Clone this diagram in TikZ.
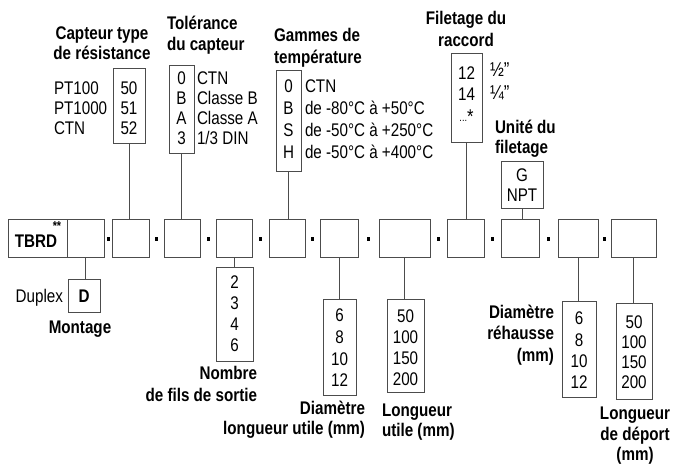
\documentclass[tikz,border=0pt]{standalone}
\usepackage{fontspec}
\setmainfont{Liberation Sans}[FakeStretch=0.83]
\newcommand\fs{\fontsize{18.3pt}{21pt}\selectfont}
\newcommand\B[5]{\node[bx, minimum width={(#4-#2)*1pt}, minimum height={(#5-#3)*1pt}] (#1) at ({(#2+#4)/2},{(#3+#5)/2}) {};}
\newcommand\T[5][tx]{\node[#1] (#2) at (#3,{#4+6.3}) {#5};}
\begin{document}
\begin{tikzpicture}[x=1pt,y=-1pt,
  lc/.style={draw=black!70, line width=0.9pt},
  bx/.style={lc, rectangle, inner sep=0pt, outer sep=0pt},
  tx/.style={inner sep=0pt, outer sep=0pt, font=\fs, anchor=base},
  tl/.style={tx, anchor=base west},
  tr/.style={tx, anchor=base east},
  bt/.style={font=\fs\bfseries},
  sepdot/.style={fill=black, inner sep=0pt, outer sep=0pt, minimum width=3pt, minimum height=4pt}]
\useasboundingbox (0,0) rectangle (674,463);
% main row
\B{m0a}{8}{219}{67}{257}
\B{m0b}{67}{219}{104}{257}
\B{m1}{112}{219}{149}{257}
\B{m2}{164}{219}{200}{257}
\B{m3}{216}{219}{252}{257}
\B{m4}{269}{219}{305}{257}
\B{m5}{320}{219}{358}{257}
\B{m6}{379}{219}{430}{257}
\B{m7}{447}{219}{484}{257}
\B{m8}{501}{219}{539}{257}
\B{m9}{558}{219}{598}{257}
\B{m10}{611}{219}{656}{257}
\T[tx,bt]{tbrd}{36}{241}{TBRD}
\node[tx, font=\fontsize{13pt}{13pt}\selectfont\bfseries] (ast) at (57,230.5) {**};
\foreach \x [count=\i] in {108,156.5,208,260.5,312.5,368.5,438.5,492.5,548.5,604.5}
  \node[sepdot] (d\i) at (\x,239) {};
% Capteur type
\B{t1}{113}{68}{145}{143}
\T{v11}{129}{88}{50}
\T{v12}{129}{108}{51}
\T{v13}{129}{128}{52}
\T[tl]{l11}{54}{88}{PT100}
\T[tl]{l12}{54}{108}{PT1000}
\T[tl]{l13}{54}{128}{CTN}
\T[tx,bt]{h11}{102}{33}{Capteur type}
\T[tx,bt]{h12}{102}{53}{de résistance}
% Tolerance
\B{t2}{169}{65}{194}{153}
\T{v21}{181.5}{78}{0}
\T{v22}{181.5}{98}{B}
\T{v23}{181.5}{118}{A}
\T{v24}{181.5}{138}{3}
\T[tl]{l21}{197}{78}{CTN}
\T[tl]{l22}{197}{98}{Classe B}
\T[tl]{l23}{197}{118}{Classe A}
\T[tl]{l24}{197}{138}{1/3 DIN}
\T[tl,bt]{h21}{167}{23}{Tolérance}
\T[tl,bt]{h22}{167}{44}{du capteur}
% Gammes
\B{t3}{276}{70}{301}{171}
\T{v31}{288.5}{86}{0}
\T{v32}{288.5}{108}{B}
\T{v33}{288.5}{130}{S}
\T{v34}{288.5}{152}{H}
\T[tl]{l31}{305}{86}{CTN}
\T[tl]{l32}{305}{108}{de -80°C à +50°C}
\T[tl]{l33}{305}{130}{de -50°C à +250°C}
\T[tl]{l34}{305}{152}{de -50°C à +400°C}
\T[tl,bt]{h31}{274}{35}{Gammes de}
\T[tl,bt]{h32}{274}{57}{température}
% Filetage
\B{t4}{451}{53}{482}{142}
\T{v41}{466.5}{73}{12}
\T{v42}{466.5}{94}{14}
\node[tx] (v43) at (466.5,121) {{\fontsize{11pt}{11pt}\selectfont ...}{\fontsize{20pt}{20pt}\selectfont\raisebox{-2pt}{*}}};
\node[tl, font=\fontsize{20pt}{20pt}\selectfont] (f41) at (490,76) {½"};
\node[tl, font=\fontsize{20pt}{20pt}\selectfont] (f42) at (490,99) {¼"};
\T[tx,bt]{h41}{466}{18}{Filetage du}
\T[tx,bt]{h42}{466}{40}{raccord}
% Unite
\T[tl,bt]{h51}{495}{127}{Unité du}
\T[tl,bt]{h52}{495}{147}{filetage}
\B{t5}{501}{161}{543}{208}
\T{v51}{522}{175}{G}
\T{v52}{522}{195}{NPT}
% Montage
\B{b0}{68}{279}{100}{312}
\T[tx,bt]{vb0}{84}{296}{D}
\T[tr]{lb0}{63}{296}{Duplex}
\T[tx,bt]{hb0}{80}{327}{Montage}
% Nombre
\B{b3}{216}{267}{253}{361}
\T{vb31}{234.5}{282}{2}
\T{vb32}{234.5}{303}{3}
\T{vb33}{234.5}{324}{4}
\T{vb34}{234.5}{345}{6}
\T[tr,bt]{hb31}{257}{373}{Nombre}
\T[tr,bt]{hb32}{257}{395}{de fils de sortie}
% Diametre longueur utile
\B{b5}{323}{299}{356}{395}
\T{vb51}{339.5}{315}{6}
\T{vb52}{339.5}{337}{8}
\T{vb53}{339.5}{359}{10}
\T{vb54}{339.5}{380}{12}
\T[tr,bt]{hb51}{365}{408}{Diamètre}
\T[tr,bt]{hb52}{365}{428}{longueur utile (mm)}
% Longueur utile
\B{b6}{387}{299}{424}{392}
\T{vb61}{405.5}{316}{50}
\T{vb62}{405.5}{337}{100}
\T{vb63}{405.5}{358}{150}
\T{vb64}{405.5}{379}{200}
\T[tl,bt]{hb61}{382}{410}{Longueur}
\T[tl,bt]{hb62}{382}{430}{utile (mm)}
% Diametre rehausse
\B{b9}{562}{301}{596}{397}
\T{vb91}{579}{318}{6}
\T{vb92}{579}{340}{8}
\T{vb93}{579}{361}{10}
\T{vb94}{579}{382}{12}
\T[tr,bt]{hb91}{554}{312}{Diamètre}
\T[tr,bt]{hb92}{554}{333}{réhausse}
\T[tr,bt]{hb93}{554}{355}{(mm)}
% Longueur deport
\B{b10}{616}{303}{652}{399}
\T{vb101}{634}{322}{50}
\T{vb102}{634}{342}{100}
\T{vb103}{634}{362}{150}
\T{vb104}{634}{382}{200}
\T[tx,bt]{hb101}{635}{413}{Longueur}
\T[tx,bt]{hb102}{635}{434}{de déport}
\T[tx,bt]{hb103}{635}{454}{(mm)}
% connectors
\draw[lc] (t1.south) -- (t1.south |- m1.north);
\draw[lc] (t2.south) -- (t2.south |- m2.north);
\draw[lc] (t3.south) -- (t3.south |- m4.north);
\draw[lc] (t4.south) -- (t4.south |- m7.north);
\draw[lc] (t5.south) -- (t5.south |- m8.north);
\draw[lc] (m0b.south) -- (m0b.south |- b0.north);
\draw[lc] (m3.south) -- (m3.south |- b3.north);
\draw[lc] (m5.south) -- (m5.south |- b5.north);
\draw[lc] (m6.south) -- (m6.south |- b6.north);
\draw[lc] (m9.south) -- (m9.south |- b9.north);
\draw[lc] (m10.south) -- (m10.south |- b10.north);
\end{tikzpicture}
\end{document}
